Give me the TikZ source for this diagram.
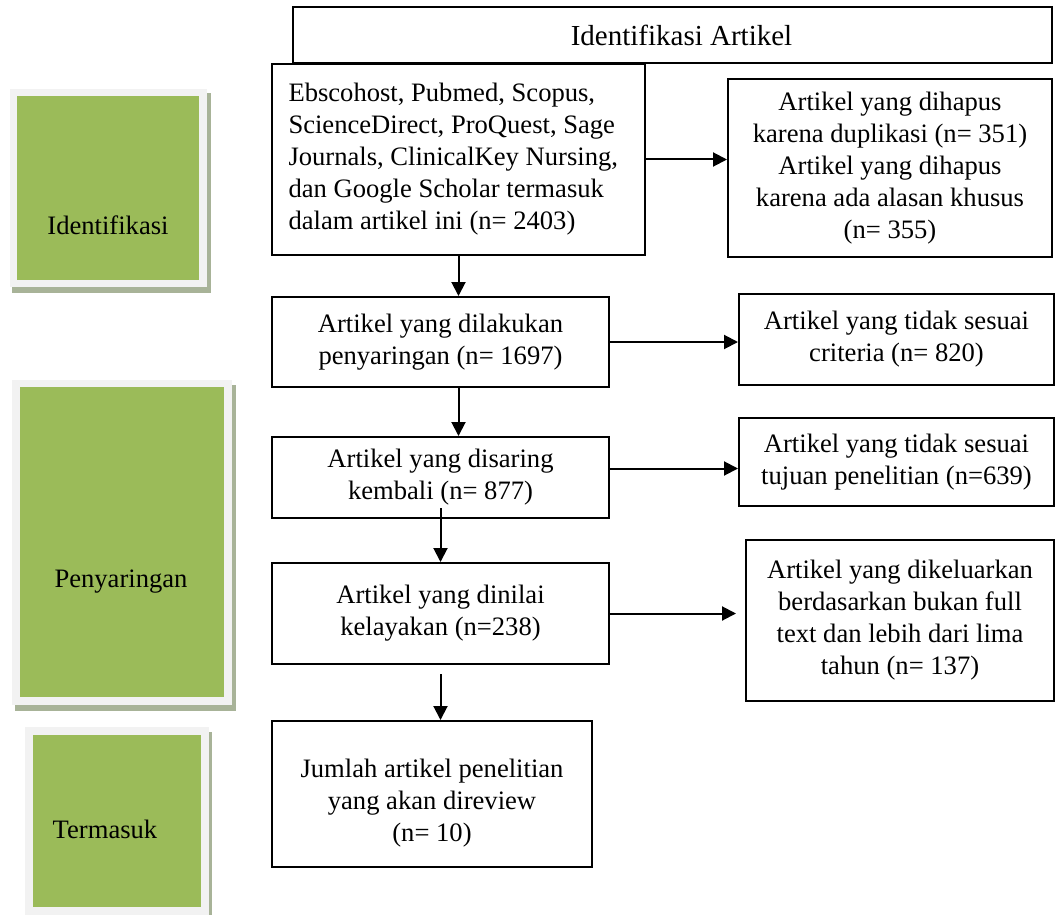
\documentclass[tikz,border=0pt]{standalone}
\usepackage{fontspec}
\setmainfont{Liberation Serif}
\usetikzlibrary{arrows.meta}

\definecolor{hijaudaun}{HTML}{9BBB59}
\definecolor{bingkaiabu}{HTML}{F2F2F2}
\definecolor{bayangabu}{HTML}{A8B398}

\tikzset{
  kotak/.style={draw, line width=1pt, align=center, inner sep=0pt,
    font=\fontsize{13.3}{16}\selectfont},
  panah/.style={line width=1pt, -{Triangle[length=7pt, width=7pt]}},
  bayang/.style={fill=bayangabu},
  bingkai/.style={fill=bingkaiabu},
  hijau/.style={fill=hijaudaun},
  labelfase/.style={inner sep=0pt, font=\fontsize{13.3}{16}\selectfont}
}

\begin{document}
\begin{tikzpicture}[x=0.5pt, y=-0.5pt]
        % 1. UKURAN GAMBAR (satuan = piksel gambar asli)
        \useasboundingbox (0,0) rectangle (1055,915);

        % ==========================================
        % 2. KOTAK HIJAU FASE (kiri)
        % ==========================================
        % Identifikasi
        \fill[bayang] (12,93) rectangle (211,293);
        \fill[bingkai] (10,89) rectangle (207,287);
        \fill[hijau] (17,96) rectangle (199,280);
        \node[labelfase] (fase1) at (108,225) {Identifikasi};

        % Penyaringan
        \fill[bayang] (15,385) rectangle (236,711);
        \fill[bingkai] (12,380) rectangle (232,705);
        \fill[hijau] (20,387) rectangle (224,697);
        \node[labelfase] (fase2) at (121,582) {Penyaringan};

        % Termasuk
        \fill[bayang] (28,732) rectangle (212,915);
        \fill[bingkai] (25,727) rectangle (209,915);
        \fill[hijau] (33,735) rectangle (201,907);
        \node[labelfase] (fase3) at (105,829) {Termasuk};

        % ==========================================
        % 3. ALUR UTAMA (tengah)
        % ==========================================
        \node[kotak, minimum width=379.5pt, minimum height=28pt, font=\fontsize{14.5}{17}\selectfont] (judul) at (672.5,35)
          {\hspace*{9pt}Identifikasi Artikel};

        \node[kotak, minimum width=186.5pt, minimum height=95.5pt, text width=170pt, align=flush left] (sumber) at (458.5,159.5)
          {Ebscohost, Pubmed, Scopus,\\ScienceDirect, ProQuest, Sage\\Journals, ClinicalKey Nursing,\\dan Google Scholar termasuk\\dalam artikel ini (n= 2403)};

        \node[kotak, minimum width=168.5pt, minimum height=45pt] (saring) at (440.5,342)
          {Artikel yang dilakukan\\penyaringan (n= 1697)};

        \node[kotak, minimum width=168.5pt, minimum height=40.5pt] (saringulang) at (440.5,477.5)
          {Artikel yang disaring\\kembali (n= 877)};

        \node[kotak, minimum width=168.5pt, minimum height=50.5pt] (layak) at (440.5,613.5)
          {Artikel yang dinilai\\kelayakan (n=238)};

        \node[kotak, minimum width=160pt, minimum height=73pt] (akhir) at (432,794)
          {\rule{0pt}{18pt}Jumlah artikel penelitian\\yang akan direview\\(n= 10)};

        % ==========================================
        % 4. ARTIKEL YANG DIKELUARKAN (kanan)
        % ==========================================
        \node[kotak, minimum width=162pt, minimum height=89pt] (hapus) at (890,168)
          {Artikel yang dihapus\\karena duplikasi (n= 351)\\Artikel yang dihapus\\karena ada alasan khusus\\(n= 355)};

        \node[kotak, minimum width=157.5pt, minimum height=45.5pt] (kriteria) at (896.5,339.5)
          {Artikel yang tidak sesuai\\criteria (n= 820)};

        \node[kotak, minimum width=157.5pt, minimum height=44pt] (tujuan) at (896.5,462)
          {Artikel yang tidak sesuai\\tujuan penelitian (n=639)};

        \node[kotak, minimum width=154pt, minimum height=80.5pt] (keluar) at (900,620.5)
          {Artikel yang dikeluarkan\\berdasarkan bukan full\\text dan lebih dari lima\\tahun (n= 137)};

        % 5. PANAH
        \draw[panah] (sumber.south) -- (saring.north -| sumber.south);
        \draw[panah] (saring.south -| sumber.south) -- (saringulang.north -| sumber.south);
        \draw[panah] ([yshift=5.5pt]saringulang.south) -- (layak.north);
        \draw[panah] ([yshift=-4.5pt]layak.south) -- (akhir.north -| layak.south);

        \draw[panah] (sumber.east) -- (hapus.west |- sumber.east);
        \draw[panah] (saring.east) -- (kriteria.west |- saring.east);
        \draw[panah] ([yshift=4.5pt]saringulang.east) -- ([yshift=4.5pt]saringulang.east -| tujuan.west);
        \draw[panah] (layak.east) -- ([xshift=-4.5pt]keluar.west |- layak.east);
    \end{tikzpicture}
\end{document}
